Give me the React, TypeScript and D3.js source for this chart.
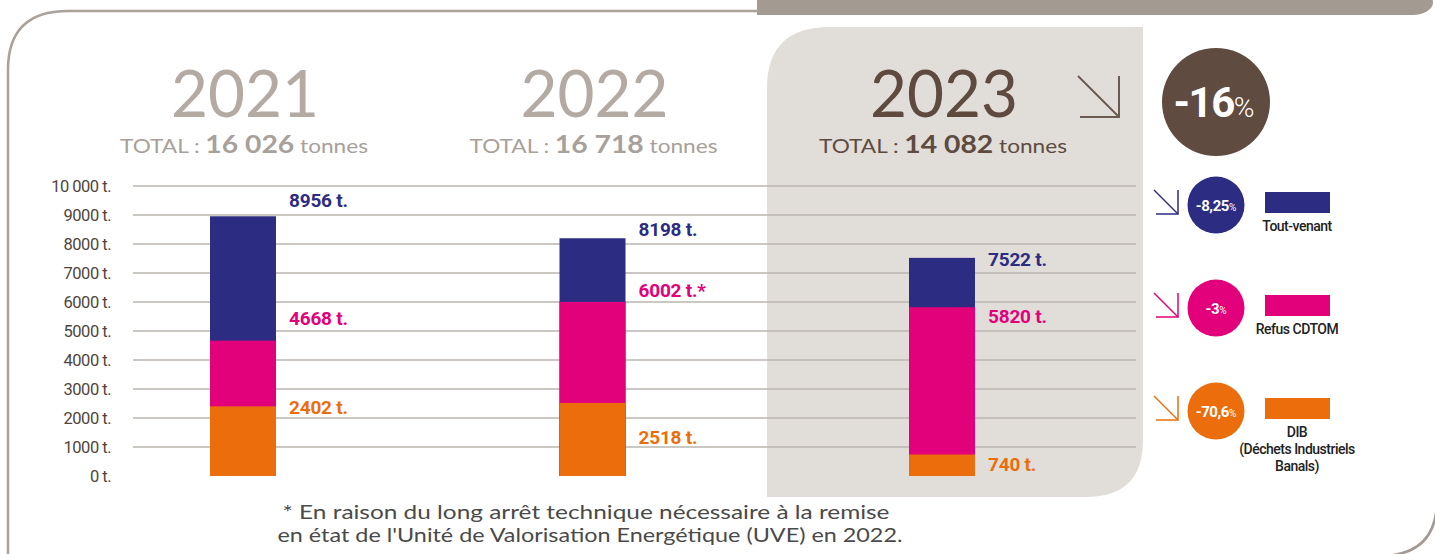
import React from "react";
import * as d3 from "d3";

// ---- data ----
const years = ["2021", "2022", "2023"];
const seriesNames = ["Tout-venant", "Refus CDTOM", "DIB"];
const toutVenant = [8956, 8198, 7522];
const refusCDTOM = [4668, 6002, 5820];
const dib = [2402, 2518, 740];
const valueSuffix = [["", "", ""], ["", "*", ""], ["", "", ""]]; // per series, per year
const yTicks = [0, 1000, 2000, 3000, 4000, 5000, 6000, 7000, 8000, 9000, 10000];
const changeLabels = ["-8,25", "-3", "-70,6"];
const totalChange = "-16";
const legendLines = [["Tout-venant"], ["Refus CDTOM"], ["DIB", "(Déchets Industriels", "Banals)"]];
const footnote = [
  "*  En raison du long arrêt technique nécessaire à la remise",
  "en état de l'Unité de Valorisation Energétique (UVE) en 2022.",
];

const colors = ["#2b2c82", "#e3007b", "#ec6d0c"];
const seriesValues = [toutVenant, refusCDTOM, dib];

const W = 1435;
const H = 554;

const loc = d3.formatLocale({ decimal: ",", thousands: "\u00a0", grouping: [3], currency: ["", ""] });
const fmtTotal = loc.format(",d");
const fmtTick = (v: number) => (v >= 10000 ? loc.format(",d")(v) : String(v)) + " t.";

// label pixel offsets (layout only) relative to value position
const labelDy = [
  [-16, -9, 1],
  [-22, -12, 9],
  [1, 34, 10],
];

export default function App() {
  const y = d3.scaleLinear().domain([0, 10000]).range([476, 186]);
  const x = d3.scalePoint<string>().domain(years).range([243, 942]);
  const barW = 66;
  const totals = years.map((_, i) => d3.sum(seriesValues, (s) => s[i]));

  const gridX0 = 133;
  const gridX1 = 1136;

  const yearColor = (i: number) => (i === 2 ? "#5e4a3e" : "#b3aaa3");
  const totalColor = (i: number) => (i === 2 ? "#5e4a3e" : "#a8a09a");

  const legendY = [205, 308, 411];

  const arrow = (x0: number, y0: number, s: number, color: string, sw: number, key: string) => (
    <g key={key} stroke={color} strokeWidth={sw} fill="none">
      <line x1={x0} y1={y0} x2={x0 + s} y2={y0 + s} />
      <polyline points={`${x0 + s},${y0} ${x0 + s},${y0 + s} ${x0 + 2},${y0 + s}`} />
    </g>
  );

  return (
    <div style={{ position: "absolute", left: 0, top: 0, width: W, height: H, overflow: "hidden" }}>
      <svg width={W} height={H} viewBox={`0 0 ${W} ${H}`} style={{ display: "block", background: "#fff" }}>
        {/* top band */}
        <rect x={757} y={-10} width={676} height={25} rx={20} fill="#a39a92" />
        <rect x={757} y={-10} width={60} height={25} fill="#a39a92" />
        {/* outer frame */}
        <path
          d={`M 8 ${H + 5} L 8 70 Q 8 11 68 11 L 760 11`}
          fill="none"
          stroke="#aaa199"
          strokeWidth={2.5}
        />
        <path d={`M 1437 500 Q 1437 553 1385 556`} fill="none" stroke="#a39a92" strokeWidth={2.5} />
        {/* 2023 panel */}
        <path
          d={`M 767 497 L 767 88 Q 767 27 830 27 L 1143 27 L 1143 440 Q 1143 497 1086 497 Z`}
          fill="#e1deda"
        />

        {/* gridlines */}
        {yTicks
          .filter((t) => t > 0)
          .map((t) => (
            <line key={t} x1={gridX0} x2={gridX1} y1={y(t)} y2={y(t)} stroke="#bab4ae" strokeWidth={1.3} />
          ))}

        {/* y-axis labels */}
        {yTicks.map((t) => (
          <text
            key={"l" + t}
            x={111}
            y={y(t)}
            dy="0.35em"
            textAnchor="end"
            fontFamily="Roboto, 'Noto Sans', sans-serif"
            fontSize={16.5}
            letterSpacing={-0.5}
            fill="#4f4540"
          >
            {fmtTick(t)}
          </text>
        ))}

        {/* bars: overlapping, largest behind */}
        {years.map((yr, i) =>
          seriesValues.map((s, k) => (
            <rect
              key={yr + k}
              x={(x(yr) as number) - barW / 2}
              y={y(s[i])}
              width={barW}
              height={y(0) - y(s[i])}
              fill={colors[k]}
            />
          ))
        )}

        {/* value labels */}
        {years.map((yr, i) =>
          seriesValues.map((s, k) => (
            <text
              key={"v" + yr + k}
              x={(x(yr) as number) + barW / 2 + 13}
              y={y(s[i]) + labelDy[k][i]}
              dy="0.35em"
              fontFamily="Roboto, sans-serif"
              fontWeight={700}
              fontSize={19}
              letterSpacing={-0.2}
              fill={colors[k]}
            >
              {s[i] + " t." + valueSuffix[k][i]}
            </text>
          ))
        )}

        {/* year titles */}
        {years.map((yr, i) => (
          <g key={"t" + yr}>
            <text
              x={(x(yr) as number) + 2}
              y={117}
              textAnchor="middle"
              fontFamily="Lato, 'Open Sans', sans-serif"
              fontWeight={400}
              fontSize={66}
              fill={yearColor(i)}
              textLength={148}
              lengthAdjust="spacingAndGlyphs"
            >
              {yr}
            </text>
            <text
              x={(x(yr) as number) + 1}
              y={153}
              textAnchor="middle"
              fontFamily="Lato, 'Open Sans', sans-serif"
              fill={totalColor(i)}
              textLength={248}
              lengthAdjust="spacingAndGlyphs"
            >
              <tspan fontSize={20} fontWeight={400}>TOTAL : </tspan>
              <tspan fontSize={25} fontWeight={700}>{fmtTotal(totals[i])}</tspan>
              <tspan fontSize={20} fontWeight={400}> tonnes</tspan>
            </text>
          </g>
        ))}

        {/* total change */}
        {arrow(1078, 76, 41, "#6b5a4f", 2, "big")}
        <circle cx={1216} cy={102} r={54} fill="#5f4b3f" />
        <text x={1214} y={117} textAnchor="middle" fontFamily="Roboto, sans-serif" fill="#fff">
          <tspan fontSize={42} fontWeight={700} letterSpacing={-1.5}>{totalChange}</tspan>
          <tspan fontSize={28} fontWeight={300}>%</tspan>
        </text>

        {/* legend */}
        {seriesNames.map((nm, k) => (
          <g key={"lg" + nm}>
            {arrow(1154, legendY[k] - 15, 24, colors[k], 1.5, "a" + k)}
            <circle cx={1216} cy={legendY[k]} r={28.5} fill={colors[k]} />
            <text
              x={1216}
              y={legendY[k]}
              dy="0.35em"
              textAnchor="middle"
              fontFamily="Roboto, sans-serif"
              fill="#fff"
            >
              <tspan fontSize={15} fontWeight={700} letterSpacing={-0.4}>{changeLabels[k]}</tspan>
              <tspan fontSize={10}>%</tspan>
            </text>
            <rect x={1265} y={legendY[k] - 13} width={65} height={21} fill={colors[k]} />
            {legendLines[k].map((ln, j) => (
              <text
                key={ln}
                x={1297}
                y={legendY[k] + 26 + j * 17}
                textAnchor="middle"
                fontFamily="Roboto, sans-serif"
                fontWeight={500}
                fontSize={14}
                letterSpacing={-0.5}
                fill="#222"
              >
                {ln}
              </text>
            ))}
          </g>
        ))}

        {/* footnote */}
        {footnote.map((ln, j) => (
          <text
            key={"f" + j}
            x={j === 0 ? 586 : 590}
            y={519 + j * 23}
            textAnchor="middle"
            fontFamily="Lato, 'Open Sans', sans-serif"
            fontSize={20}
            fill="#4a4a4a"
            textLength={j === 0 ? 607 : 625}
            lengthAdjust="spacingAndGlyphs"
          >
            {ln}
          </text>
        ))}
      </svg>
    </div>
  );
}
